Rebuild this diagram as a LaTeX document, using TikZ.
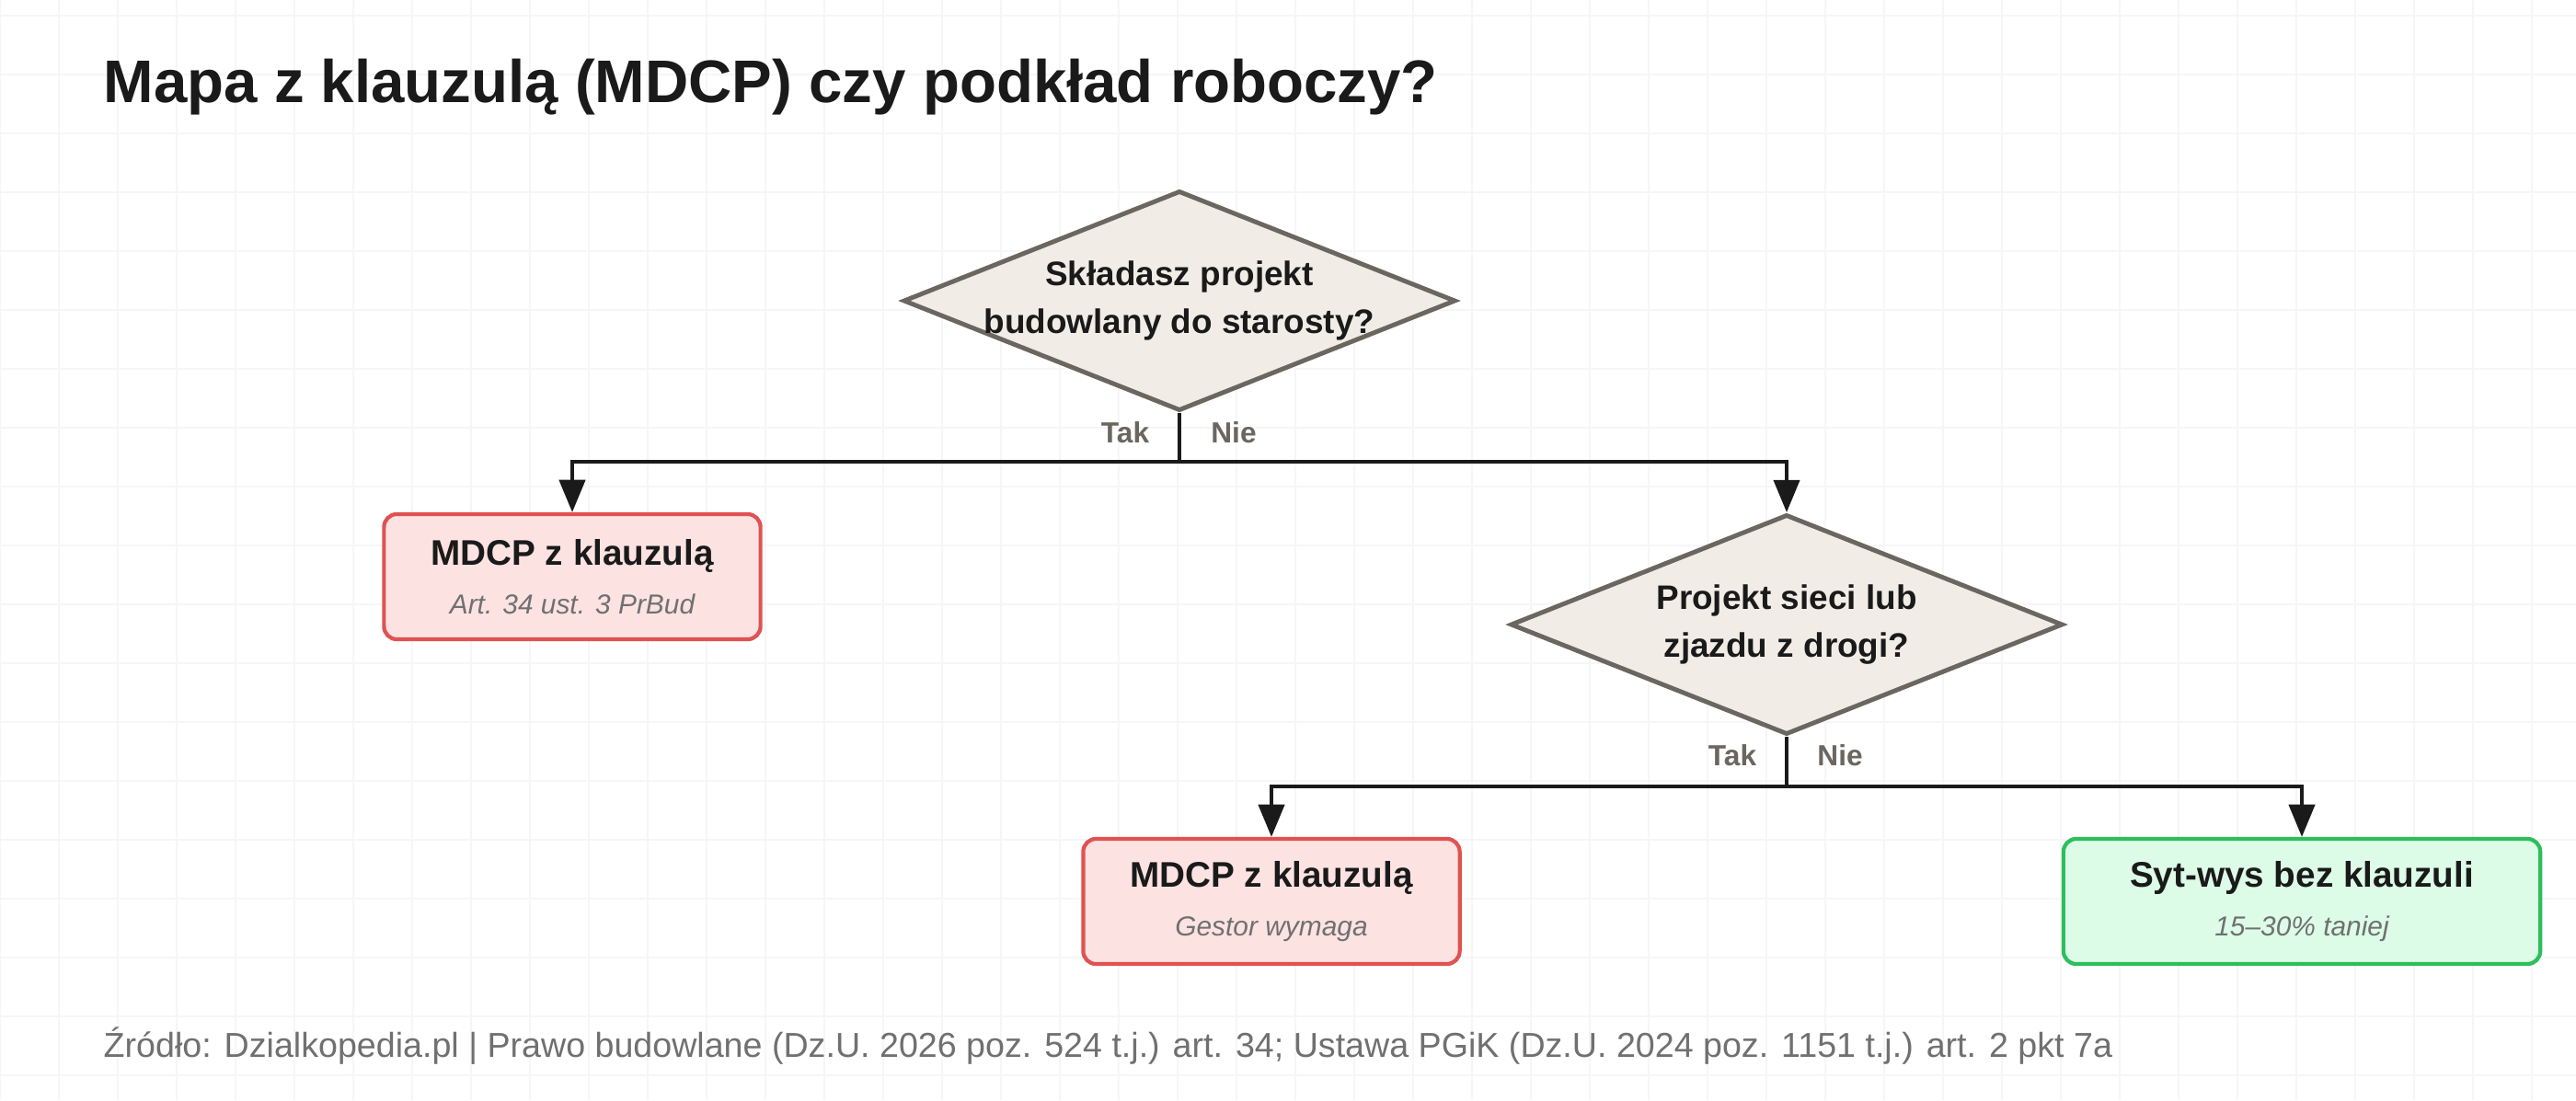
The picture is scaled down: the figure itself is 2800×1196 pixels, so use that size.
\documentclass[tikz,border=0pt]{standalone}
\usepackage{fontspec}
\setmainfont{Liberation Sans}
\usetikzlibrary{shapes.geometric,arrows.meta}
\definecolor{dfill}{HTML}{F1EDE6}
\definecolor{dline}{HTML}{6B6660}
\definecolor{rfill}{HTML}{FDE2E2}
\definecolor{rline}{HTML}{E05252}
\definecolor{gfill}{HTML}{DCFCE7}
\definecolor{gline}{HTML}{2DBE5E}
\definecolor{txt}{HTML}{1A1A1A}
\definecolor{sub}{HTML}{707070}
\definecolor{gridc}{HTML}{F6F6F6}
\tikzset{
 decision/.style={diamond,draw=dline,fill=dfill,line width=1.4pt,minimum width=6cm,minimum height=2.39cm,inner sep=0pt,align=center,font=\fontsize{10.5}{15}\selectfont\bfseries,text=txt,aspect=2.51},
 result/.style={rectangle,rounded corners=0.14cm,line width=1.2pt,align=center,text=txt,minimum height=1.36cm,inner sep=0pt},
 redbox/.style={result,draw=rline,fill=rfill,minimum width=4.09cm},
 greenbox/.style={result,draw=gline,fill=gfill,minimum width=5.18cm},
 lbl/.style={font=\fontsize{9}{10}\selectfont\bfseries,text=dline},
 conn/.style={line width=1.1pt,draw=txt},
 arr/.style={conn,-{Triangle[length=10pt,width=8pt]}},
}
\newcommand{\rtext}[2]{{\fontsize{11}{13}\selectfont\bfseries #1}\\[3pt]{\fontsize{8.5}{10}\selectfont\itshape\color{sub}#2}}
\begin{document}
\begin{tikzpicture}[x=0.01cm,y=-0.01cm]
\useasboundingbox (0,0) rectangle (2800,1196);
\fill[white] (0,0) rectangle (2800,1196);
\foreach \i in {0,64,...,2800} \draw[gridc,line width=0.4pt] (\i,0) -- (\i,1196);
\foreach \j in {17,81,...,1196} \draw[gridc,line width=0.4pt] (0,\j) -- (2800,\j);
\node[anchor=west,font=\fontsize{18.6}{22}\selectfont\bfseries,text=txt,inner sep=0pt] (title) at (112,95) {Mapa z klauzulą (MDCP) czy podkład roboczy?};
\node[decision,inner xsep=-8pt] (d1) at (1282,327) {Składasz projekt\\budowlany do starosty?};
\node[redbox] (b1) at (622,627) {\rtext{MDCP z klauzulą}{Art. 34 ust. 3 PrBud}};
\node[decision] (d2) at (1942,679) {Projekt sieci lub\\zjazdu z drogi?};
\node[redbox] (b2) at (1382,980) {\rtext{MDCP z klauzulą}{Gestor wymaga}};
\node[greenbox] (b3) at (2502,980) {\rtext{Syt-wys bez klauzuli}{15–30\% taniej}};
\coordinate (j1) at (1282,502);
\coordinate (j2) at (1942,855);
\draw[conn] (d1.south) -- (j1);
\draw[arr] (j1) -| (b1.north);
\draw[arr] (j1) -| (d2.north);
\draw[conn] (d2.south) -- (j2);
\draw[arr] (j2) -| (b2.north);
\draw[arr] (j2) -| (b3.north);
\node[lbl] (t1) at (1223,470) {Tak};
\node[lbl] (n1) at (1341,470) {Nie};
\node[lbl] (t2) at (1883,821) {Tak};
\node[lbl] (n2) at (2000,821) {Nie};
\node[anchor=west,font=\fontsize{10.7}{13}\selectfont,text=sub,inner sep=0pt] (foot) at (112,1137) {Źródło: Dzialkopedia.pl | Prawo budowlane (Dz.U. 2026 poz. 524 t.j.) art. 34; Ustawa PGiK (Dz.U. 2024 poz. 1151 t.j.) art. 2 pkt 7a};
\end{tikzpicture}
\end{document}
